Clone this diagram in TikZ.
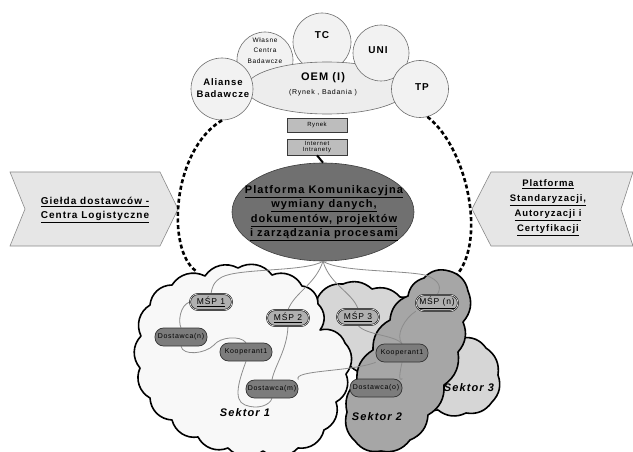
\documentclass[tikz,border=0pt]{standalone}
\usepackage{fontspec}
\setmainfont{Liberation Sans}
\newfontfamily\spc[LetterSpace=10]{Liberation Sans}
\usetikzlibrary{shapes.geometric}
\definecolor{cCircFill}{HTML}{F2F2F2}
\definecolor{cCircDraw}{HTML}{6E6E6E}
\definecolor{cOEM}{HTML}{EDEDED}
\definecolor{cBox}{HTML}{BDBDBD}
\definecolor{cBoxDraw}{HTML}{3A3A3A}
\definecolor{cPlat}{HTML}{707070}
\definecolor{cPlatDraw}{HTML}{3C3C3C}
\definecolor{cChev}{HTML}{E6E6E6}
\definecolor{cChevDraw}{HTML}{8A8A8A}
\definecolor{cSa}{HTML}{F8F8F8}
\definecolor{cSb}{HTML}{A6A6A6}
\definecolor{cSc}{HTML}{D6D6D6}
\definecolor{cMSP}{HTML}{B0B0B0}
\definecolor{cMSPin}{HTML}{D8D8D8}
\definecolor{cWk}{HTML}{7C7C7C}
\definecolor{cWkDraw}{HTML}{333333}
\definecolor{cWire}{HTML}{8C8C8C}
\pgfdeclarelayer{bg}
\pgfdeclarelayer{wires}
\pgfsetlayers{bg,wires,main}
\begin{document}
\begin{tikzpicture}[x=1pt,y=-1pt,
  circ/.style={circle,draw=cCircDraw,fill=cCircFill,line width=0.6pt,inner sep=0pt},
  lbl/.style={inner sep=0pt,align=center,text=black},
  gbox/.style={draw=cBoxDraw,fill=cBox,line width=0.6pt,inner sep=0pt,minimum width=60pt,align=center,font=\spc\fontsize{6}{6.5}\selectfont},
  chev/.style={draw=cChevDraw,fill=cChev,line width=0.6pt},
  sek/.style={draw=black,line width=1.6pt,line join=round},
  bl/.style={bend left=42},
  bs/.style={bend left=32},
  wire/.style={draw=cWire,line width=0.8pt},
  msp/.style={draw=black,line width=0.5pt,double=cMSPin,double distance=0.7pt,fill=cMSP,rounded corners=8pt,minimum width=42pt,minimum height=16pt,inner sep=0pt,font=\spc\fontsize{8.5}{10}\selectfont},
  wk/.style={draw=cWkDraw,line width=0.7pt,fill=cWk,rounded corners=8.5pt,minimum width=52pt,minimum height=18pt,inner sep=0pt,font=\spc\fontsize{7}{8}\selectfont},
  dashc/.style={line width=2.6pt,dash pattern=on 4pt off 2.6pt,draw=black},
  sektxt/.style={inner sep=0pt,font=\spc\bfseries\itshape\fontsize{11}{12}\selectfont}
]
\useasboundingbox (0,0) rectangle (633,452);
\begin{pgfonlayer}{bg}
\fill[white] (0,0) rectangle (633,452);
% chevrons
\filldraw[chev] (10,172) -- (160,172) -- (178,209) -- (160,246) -- (10,246) -- (25,209) -- cycle;
\node[lbl,font=\spc\bfseries\fontsize{10}{14}\selectfont] (gielda) at (95,210)
  {\underline{Giełda dostawców -}\\\underline{Centra Logistyczne}};
\filldraw[chev] (472,209) -- (491,172) -- (633,172) -- (621,209) -- (633,246) -- (491,246) -- cycle;
\node[lbl,font=\spc\bfseries\fontsize{9.5}{15}\selectfont] (standard) at (548,207.5)
  {\underline{Platforma}\\\underline{Standaryzacji,}\\\underline{Autoryzacji i}\\\underline{Certyfikacji}};
% top cluster
\node[circ,minimum size=56pt] (wl) at (265,60) {};
\node[circ,minimum size=58pt] (tc) at (322,42) {};
\node[ellipse,draw=cCircDraw,fill=cOEM,line width=0.6pt,minimum width=162pt,minimum height=52pt,inner sep=0pt] (oem) at (327,88) {};
\node[circ,minimum size=56pt] (uni) at (381,53) {};
\node[circ,minimum size=57pt] (tp) at (420,89) {};
\node[circ,minimum size=62pt] (al) at (222,89) {};
\node[lbl,font=\spc\fontsize{6.5}{10.3}\selectfont] (wltxt) at (265,50.5) {Własne\\Centra\\Badawcze};
\node[lbl,font=\spc\bfseries\fontsize{10}{12}\selectfont] (tctxt) at (322,35) {TC};
\node[lbl,font=\spc\bfseries\fontsize{10}{12}\selectfont] (unitxt) at (378,50) {UNI};
\node[lbl,font=\spc\bfseries\fontsize{10}{12}\selectfont] (tptxt) at (422,87) {TP};
\node[lbl,font=\spc\bfseries\fontsize{9.5}{11.5}\selectfont] (altxt) at (223,88) {Alianse\\Badawcze};
\node[lbl,font=\spc\bfseries\fontsize{11}{12}\selectfont] (oemtxt) at (323,78) {OEM (I)};
\node[lbl,font=\spc\fontsize{7}{8}\selectfont] (oemsub) at (323,93) {(Rynek , Badania )};
% dashed ring
\coordinate (s1a) at (196,271);
\coordinate (s2a) at (448,283);
\draw[dashc] (al.south) .. controls (172,150) and (166,250) .. (s1a);
\draw[dashc] (tp.-75) .. controls (470,150) and (490,255) .. (s2a);
% boxes and platform
\node[gbox,minimum height=14pt] (rynek) at (317,125) {Rynek};
\node[gbox,minimum height=16pt] (inet) at (317,147) {Internet\\Intranety};
\node[ellipse,draw=cPlatDraw,fill=cPlat,line width=0.6pt,minimum width=182pt,minimum height=98pt,inner sep=0pt] (plat) at (323,212) {};
\draw[line width=2pt] (inet.south) -- (plat.north);
\node[lbl,font=\spc\bfseries\fontsize{11}{14.5}\selectfont] (plattxt) at (324,213)
  {\underline{Platforma Komunikacyjna}\\\underline{wymiany danych,}\\\underline{dokumentów, projektów}\\\underline{i zarządzania procesami}};
% sector clouds
\filldraw[sek,fill=cSc] (318,297) to[bs] (343,284) to[bs] (372,289) to[bs] (400,297) to[bs] (430,315) to[bs] (462,338) to[bs] (486,348) to[bs] (498,375) to[bs] (492,402) to[bs] (466,413) to[bs] (438,410) to[bs] (415,400) to[bs] (385,372) to[bs] (350,366) to[bs] (330,340) to[bs] (318,297) -- cycle;
\filldraw[sek,fill=cSa] (150,305) to[bl] (172,285) to[bl] (205,276) to[bl] (238,268) to[bl] (272,275) to[bl] (302,286) to[bl] (318,304) to[bl] (320,330) to[bl] (345,343) to[bl] (346,374) to[bl] (336,402) to[bl] (324,430) to[bl] (298,448) to[bl] (263,451) to[bl] (228,448) to[bl] (198,437) to[bl] (172,420) to[bl] (150,398) to[bl] (140,368) to[bl] (141,336) to[bl] (150,305) -- cycle;
\filldraw[sek,fill=cSb] (408,296) to[bs] (424,278) to[bs] (449,271) to[bs] (468,291) to[bs] (463,322) to[bs] (458,352) to[bs] (444,385) to[bs] (428,415) to[bs] (410,440) to[bs] (381,451) to[bs] (355,441) to[bs] (347,412) to[bs] (357,382) to[bs] (373,350) to[bs] (390,320) to[bs] (408,296) -- cycle;
\end{pgfonlayer}
% nodes
\node[msp] (msp1) at (211,302) {\underline{MŚP 1}};
\node[msp] (msp2) at (288,318) {\underline{MŚP 2}};
\node[msp] (msp3) at (358,317) {\underline{MŚP 3}};
\node[msp] (mspn) at (437,303) {\underline{MŚP (n)}};
\node[wk] (dn) at (181,337) {Dostawca(n)};
\node[wk] (ka) at (246,352) {Kooperant1};
\node[wk] (dm) at (272,389) {Dostawca(m)};
\node[wk] (kb) at (402,353) {Kooperant1};
\node[wk] (do) at (376,388) {Dostawca(o)};
\node[sektxt] (sek1) at (245,413) {Sektor 1};
\node[sektxt] (sek2) at (377,417) {Sektor 2};
\node[sektxt] (sek3) at (469,388) {Sektor 3};
% wires
\begin{pgfonlayer}{wires}
\draw[wire] (plat.south) .. controls (305,272) and (240,268) .. (222,277) .. controls (213,282) and (212,288) .. (msp1.north);
\draw[wire] (plat.south) .. controls (315,285) and (295,292) .. (msp2.north);
\draw[wire] (plat.south) .. controls (330,285) and (352,292) .. (msp3.north);
\draw[wire] (plat.south) .. controls (340,272) and (400,270) .. (425,275) .. controls (440,280) and (442,288) .. (mspn.north);
\draw[wire] (msp1.west) .. controls (180,305) and (178,322) .. (dn.north);
\draw[wire] (dn.south) .. controls (183,356) and (205,354) .. (214,345) .. controls (220,337) and (240,335) .. (ka.north);
\draw[wire] (ka.south) .. controls (240,378) and (232,400) .. (245,405) .. controls (258,410) and (270,405) .. (dm.south);
\draw[wire] (msp2.south) .. controls (287,350) and (275,365) .. (dm.north);
\draw[wire] (dm.north east) .. controls (292,370) and (350,372) .. (kb.south west);
\draw[wire] (kb.south) .. controls (400,372) and (398,382) .. (do.north east);
\draw[wire] (msp3.south) .. controls (365,335) and (395,335) .. (kb.north);
\draw[wire] (mspn.south west) .. controls (405,318) and (395,335) .. (kb.north);
\end{pgfonlayer}
\end{tikzpicture}
\end{document}
